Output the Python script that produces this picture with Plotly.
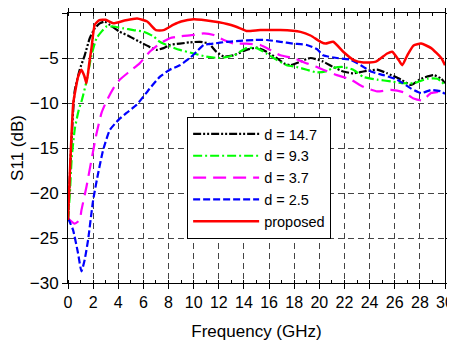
import plotly.graph_objects as go

# ---- data ----
f_d147 = [0, 0.25, 0.53, 0.93, 1.33, 1.73, 2.13, 2.53, 2.93, 3.33, 4.1, 4.9, 5.7, 6.4, 7.05, 7.6, 8.1, 8.9, 9.7, 10.5, 11.2, 11.8, 12.4, 13.2, 14.2, 15.0, 15.8, 16.6, 17.2, 17.7, 18.5, 19.3, 20.3, 21.1, 21.9, 22.7, 23.5, 24.6, 25.4, 26.5, 27.3, 28.1, 29.1, 29.7, 30]
s_d147 = [-23, -15, -8.7, -6.3, -4.7, -2.8, -1.7, -1.15, -0.96, -1.33, -2.07, -2.6, -3.2, -3.7, -4.1, -3.9, -3.55, -3.4, -3.26, -3.2, -3.4, -4.3, -4.85, -4.7, -4.1, -3.85, -4.3, -5.0, -5.6, -5.8, -5.4, -5.0, -5.4, -6.0, -6.5, -6.7, -6.5, -6.3, -6.7, -7.4, -8.0, -7.3, -6.9, -7.3, -7.8]

f_d93 = [0, 0.15, 0.3, 0.55, 0.85, 1.1, 1.47, 1.87, 2.27, 2.67, 3.06, 3.6, 4.4, 5.2, 6.0, 6.8, 7.3, 8.1, 8.9, 10.0, 11.0, 12.1, 13.2, 14.2, 15.0, 15.8, 16.6, 17.4, 18.2, 19.0, 19.8, 20.5, 21.1, 21.9, 22.7, 23.5, 24.6, 25.7, 26.7, 27.5, 28.6, 29.4, 30]
s_d93 = [-23, -20, -16, -12.8, -10.8, -9.7, -7.6, -4.7, -2.8, -2.07, -1.5, -1.5, -1.7, -1.9, -2.07, -2.6, -3.2, -3.7, -4.1, -4.5, -4.85, -5.0, -4.7, -3.9, -3.9, -4.5, -5.2, -5.8, -6.0, -6.3, -6.6, -6.5, -6.1, -6.0, -6.3, -7.1, -7.4, -7.6, -7.8, -7.8, -7.3, -7.3, -8.0]

f_d37 = [0, 0.53, 0.93, 1.07, 1.47, 1.87, 2.27, 2.67, 3.06, 3.6, 4.13, 4.9, 5.7, 6.5, 7.3, 8.1, 8.9, 10.0, 10.8, 11.6, 12.4, 13.2, 14.2, 15.3, 16.1, 16.9, 17.9, 19.0, 19.8, 20.3, 21.4, 22.5, 23.5, 24.6, 25.7, 26.7, 27.5, 28.2, 28.9, 29.7, 30]
s_d37 = [-22.8, -23.4, -23.0, -21.9, -19.3, -16.3, -13.4, -11.1, -9.8, -8.4, -7.4, -6.5, -5.6, -4.3, -3.4, -2.8, -2.6, -2.44, -2.26, -2.44, -3.0, -3.4, -3.4, -3.55, -4.1, -4.7, -5.0, -5.6, -6.0, -6.3, -6.9, -7.4, -8.2, -8.7, -8.55, -8.8, -9.5, -9.7, -8.9, -8.7, -8.55]

f_d25 = [0, 0.4, 0.8, 1.07, 1.33, 1.6, 2.0, 2.4, 2.8, 3.33, 4.0, 4.66, 5.46, 6.5, 7.3, 8.1, 8.9, 9.7, 10.3, 10.8, 11.6, 12.6, 13.7, 14.8, 15.8, 16.9, 17.9, 19.0, 19.8, 20.3, 21.4, 22.5, 23.3, 24.1, 25.1, 26.2, 27.3, 28.1, 28.9, 29.7, 30]
s_d25 = [-22.8, -24.1, -26.7, -28.7, -27.4, -25.2, -20.8, -17.8, -15.2, -13.0, -11.9, -11.1, -10.2, -8.4, -7.1, -6.3, -5.8, -5.0, -4.2, -3.55, -3.4, -3.2, -3.1, -3.0, -3.0, -3.2, -3.4, -3.55, -4.0, -4.7, -5.0, -5.2, -5.8, -6.5, -6.9, -7.4, -8.4, -8.9, -8.55, -8.7, -9.0]

f_prop = [0, 0.2, 0.42, 0.6, 0.8, 1.07, 1.3, 1.47, 1.7, 1.87, 2.13, 2.5, 3.0, 3.6, 4.6, 5.5, 6.3, 7.0, 7.6, 8.4, 9.0, 10.0, 11.6, 12.9, 13.7, 14.2, 15.3, 16.9, 18.5, 19.3, 20.1, 20.5, 21.1, 21.9, 22.7, 23.5, 24.5, 25.4, 25.8, 26.3, 26.6, 27.0, 27.5, 28.1, 28.9, 29.7, 30]
s_prop = [-23, -16, -10, -8.5, -7.1, -6.3, -7.0, -7.8, -5.5, -3.9, -1.3, -0.8, -0.75, -1.15, -0.8, -0.6, -0.95, -1.9, -1.9, -1.3, -0.95, -0.7, -0.95, -1.3, -1.7, -2.0, -1.9, -1.9, -2.1, -2.5, -3.2, -3.4, -3.2, -4.3, -5.2, -5.5, -5.4, -4.5, -4.3, -5.2, -5.8, -4.7, -3.6, -3.4, -3.9, -5.0, -5.8]

x_ticks = list(range(0, 31, 2))
y_ticks = list(range(-30, 1, 5))

series = [
    ("d = 14.7", f_d147, s_d147, "black", "8px,2px,2px,2px,2px,2px"),
    ("d = 9.3", f_d93, s_d93, "#00ff00", "9px,3px,2px,3px"),
    ("d = 3.7", f_d37, s_d37, "#ff00ff", "13px,7px"),
    ("d = 2.5", f_d25, s_d25, "#0000ff", "7px,3px"),
    ("proposed", f_prop, s_prop, "#ff0000", "solid"),
]

fig = go.Figure()
for name, fx, sy, col, dash in series:
    fig.add_trace(go.Scatter(
        x=fx, y=sy, mode="lines", name=name,
        line=dict(color=col, width=2.5 if name == "proposed" else 2.2,
                  dash=dash, shape="spline", smoothing=0.5),
    ))

font = "Liberation Sans, Arial, sans-serif"
# page body has an 8px default margin, so the figure is sized/offset for it
fig.update_layout(
    width=447, height=335,
    margin=dict(l=60, r=10, t=5, b=60),
    paper_bgcolor="white", plot_bgcolor="white",
    font=dict(family=font, size=16, color="black"),
    showlegend=True,
    legend=dict(x=0.316, y=0.615, xanchor="left", yanchor="top",
                bgcolor="white", bordercolor="black", borderwidth=1,
                font=dict(size=14.5, family=font), tracegroupgap=0,
                itemwidth=66),
    xaxis=dict(range=[0, 30], tickvals=x_ticks, ticks="outside", ticklen=5,
               tickcolor="black", showline=True, linecolor="black", linewidth=1,
               mirror="ticks", showgrid=True, gridcolor="#444444", griddash="6px,4px",
               gridwidth=1, zeroline=False, automargin=False,
               tickfont=dict(size=16),
               minor=dict(dtick=1, ticks="inside", ticklen=3, tickcolor="black", showgrid=False),
               title=dict(text="Frequency (GHz)", font=dict(size=17), standoff=14)),
    yaxis=dict(range=[-30, 0], tickvals=y_ticks, ticks="outside", ticklen=5,
               tickcolor="black", showline=True, linecolor="black", linewidth=1,
               mirror="ticks", showgrid=True, gridcolor="#444444", griddash="6px,4px",
               gridwidth=1, zeroline=False, automargin=False,
               tickfont=dict(size=17),
               title=dict(text="S11 (dB)", font=dict(size=17), standoff=14)),
)

fig.write_html("out.html")
